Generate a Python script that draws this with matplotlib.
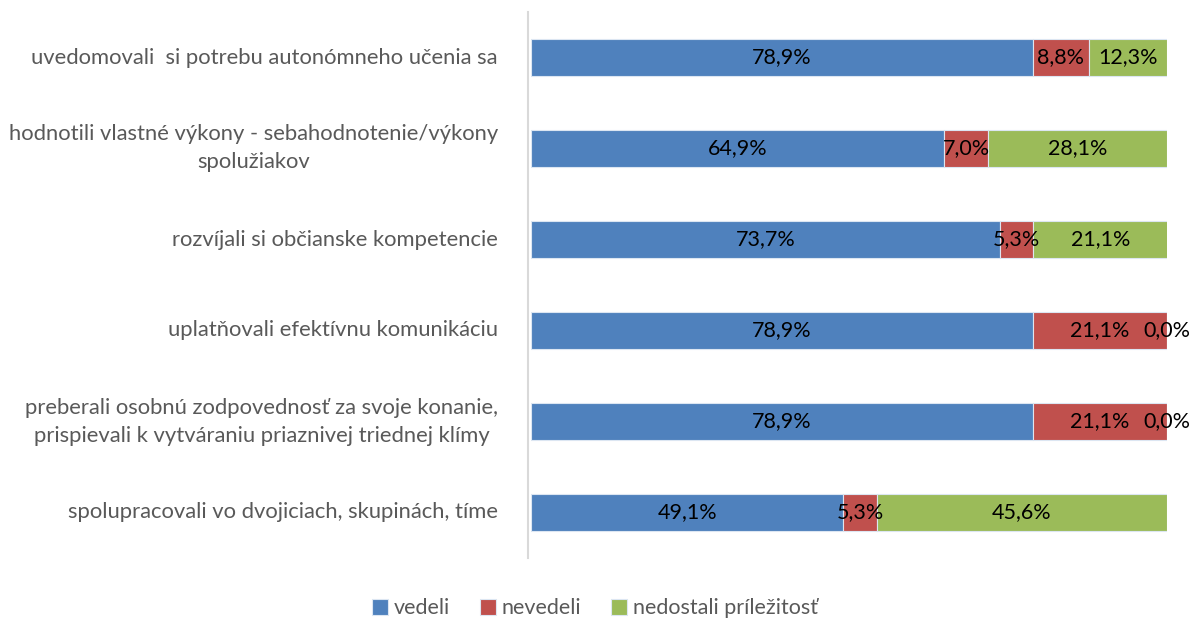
import matplotlib
matplotlib.use("Agg")
import matplotlib.pyplot as plt
import matplotlib.transforms as mtransforms
import numpy as np

plt.rcParams["font.family"] = ["Lato", "DejaVu Sans"]

categories = [
    "uvedomovali  si potrebu autonómneho učenia sa",
    "hodnotili vlastné výkony - sebahodnotenie/výkony\nspolužiakov",
    "rozvíjali si občianske kompetencie",
    "uplatňovali efektívnu komunikáciu",
    "preberali osobnú zodpovednosť za svoje konanie,\nprispievali k vytváraniu priaznivej triednej klímy",
    "spolupracovali vo dvojiciach, skupinách, tíme",
]
vedeli = [78.9, 64.9, 73.7, 78.9, 78.9, 49.1]
nevedeli = [8.8, 7.0, 5.3, 21.1, 21.1, 5.3]
nedostali = [12.3, 28.1, 21.1, 0.0, 0.0, 45.6]

series = [
    ("vedeli", vedeli, "#4F81BD"),
    ("nevedeli", nevedeli, "#C0504D"),
    ("nedostali príležitosť", nedostali, "#9BBB59"),
]

fig = plt.figure(figsize=(11.9, 6.19), dpi=100)
ax = fig.add_axes([531 / 1190, 61 / 619, 636 / 1190, 546 / 619])

y = np.arange(len(categories))
left = np.zeros(len(categories))
for name, vals, color in series:
    vals = np.array(vals)
    ax.barh(y, vals, left=left, height=0.4, color=color,
            edgecolor="#dce6f2", linewidth=0.8, label=name)
    for yi, l, v in zip(y, left, vals):
        ax.text(l + v / 2, yi, f"{v:.1f}%".replace(".", ","),
                ha="center", va="center", fontsize=15.5, color="black")
    left = left + vals

ax.set_xlim(0, 100)
ax.set_ylim(len(categories) - 0.5, -0.5)
ax.set_yticks([])
ax.set_xticks([])

# category labels: right-aligned block, lines centred within it
trans = mtransforms.blended_transform_factory(ax.transAxes, ax.transData)
for yi, cat in zip(y, categories):
    ax.text(-0.052, yi, cat, transform=trans, ha="right", va="center",
            multialignment="center", fontsize=15.8, color="#595959",
            linespacing=1.5)

for s in ["top", "right", "bottom"]:
    ax.spines[s].set_visible(False)
ax.spines["left"].set_color("#d9d9d9")
ax.spines["left"].set_linewidth(1.5)
ax.spines["left"].set_position(("outward", 2))

fig.legend(loc="lower center", bbox_to_anchor=(0.5, -0.03), ncol=3,
           frameon=False, fontsize=15.5, labelcolor="#595959",
           handlelength=0.75, handleheight=0.75, handletextpad=0.25,
           columnspacing=1.4)

fig.savefig("out.png", dpi=100)
